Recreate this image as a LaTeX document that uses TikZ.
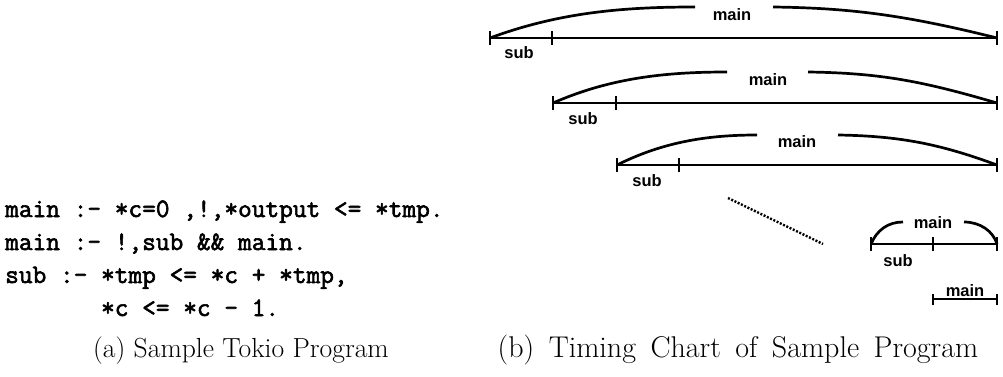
\documentclass[tikz,border=0pt]{standalone}
\usepackage{fontspec}
\newfontfamily\labfont{Liberation Sans}
\newfontfamily\codefont{Latin Modern Mono}[AutoFakeBold=2.2]
\begin{document}
\begin{tikzpicture}[x=1pt,y=-1pt,
  bar/.style={line width=2.6pt},
  arcline/.style={line width=2.7pt},
  tickline/.style={line width=2.6pt},
  lab/.style={font=\labfont\bfseries\fontsize{16.5}{16.5}\selectfont, inner sep=0pt},
  captext/.style={font=\fontsize{27.6}{30}\selectfont, inner sep=0pt, anchor=base},
  code/.style={font=\codefont\bfseries\fontsize{26.6}{33}\selectfont, inner sep=0pt, anchor=base west}
]
\useasboundingbox (0,0) rectangle (1003,377);

% ---- (a) program ----
\node[code] (c1) at (5,217) {main :- *c=0 ,!,*output <= *tmp.};
\node[code] (c2) at (5,250) {main :- !,sub \&\& main.};
\node[code] (c3) at (5,283) {sub :- *tmp <= *c + *tmp,};
\node[code] (c4) at (5,316) {\ \ \ \ \ \ \ *c <= *c - 1.};
\node[captext] (capa) at (241,357) {(a) Sample Tokio Program};
\node[captext, font=\fontsize{30}{32}\selectfont] (capb) at (738,357) {\spaceskip=14.5pt plus 1pt(b) Timing Chart of Sample Program};

% ---- (b) timing chart ----
% row 1
\coordinate (l1) at (490,38); \coordinate (s1) at (552,38); \coordinate (r1) at (997,38);
\draw[bar] (l1) -- (r1);
\foreach \p in {l1,s1,r1} \draw[tickline] ([yshift=-7pt]\p) -- ([yshift=7pt]\p);
\node[lab] (m1) at (732,15) {main};
\node[lab] (u1) at (519,53) {sub};
\draw[arcline] (l1) .. controls (560,12) and (625,7) .. (695,7);
\draw[arcline] (773,7) .. controls (850,8) and (905,15) .. (r1);

% row 2
\coordinate (l2) at (553,103); \coordinate (s2) at (616,103); \coordinate (r2) at (997,103);
\draw[bar] (l2) -- (r2);
\foreach \p in {l2,s2,r2} \draw[tickline] ([yshift=-7pt]\p) -- ([yshift=7pt]\p);
\node[lab] (m2) at (768,80) {main};
\node[lab] (u2) at (583,119) {sub};
\draw[arcline] (l2) .. controls (610,78) and (665,72) .. (727,72);
\draw[arcline] (808,72) .. controls (880,73) and (922,81) .. (r2);

% row 3
\coordinate (l3) at (617,165); \coordinate (s3) at (679,165); \coordinate (r3) at (997,165);
\draw[bar] (l3) -- (r3);
\foreach \p in {l3,s3,r3} \draw[tickline] ([yshift=-7pt]\p) -- ([yshift=7pt]\p);
\node[lab] (m3) at (797,142) {main};
\node[lab] (u3) at (647,181) {sub};
\draw[arcline] (l3) .. controls (665,141) and (710,135) .. (757,135);
\draw[arcline] (838,135) .. controls (900,136) and (940,144) .. (r3);

% dotted continuation
\coordinate (d1) at (728,198); \coordinate (d2) at (823,244);
\draw[line width=2.4pt, dash pattern=on 2pt off 1.6pt] (d1) -- (d2);

% row 4
\coordinate (l4) at (871,244); \coordinate (s4) at (933,244); \coordinate (r4) at (997,244);
\draw[bar] (l4) -- (r4);
\foreach \p in {l4,s4,r4} \draw[tickline] ([yshift=-7pt]\p) -- ([yshift=7pt]\p);
\node[lab] (m4) at (933,223) {main};
\node[lab] (u4) at (898,261) {sub};
\draw[arcline] (l4) .. controls (877,230) and (888,222) .. (903,222);
\draw[arcline] (964,222) .. controls (980,222) and (993,231) .. (r4);

% row 5
\coordinate (l5) at (933,299); \coordinate (r5) at (997,299);
\draw[line width=2pt] (l5) -- (r5);
\foreach \p in {l5,r5} \draw[tickline] ([yshift=-6pt]\p) -- ([yshift=5pt]\p);
\node[lab, anchor=base] (m5) at (965,296) {main};
\end{tikzpicture}
\end{document}
